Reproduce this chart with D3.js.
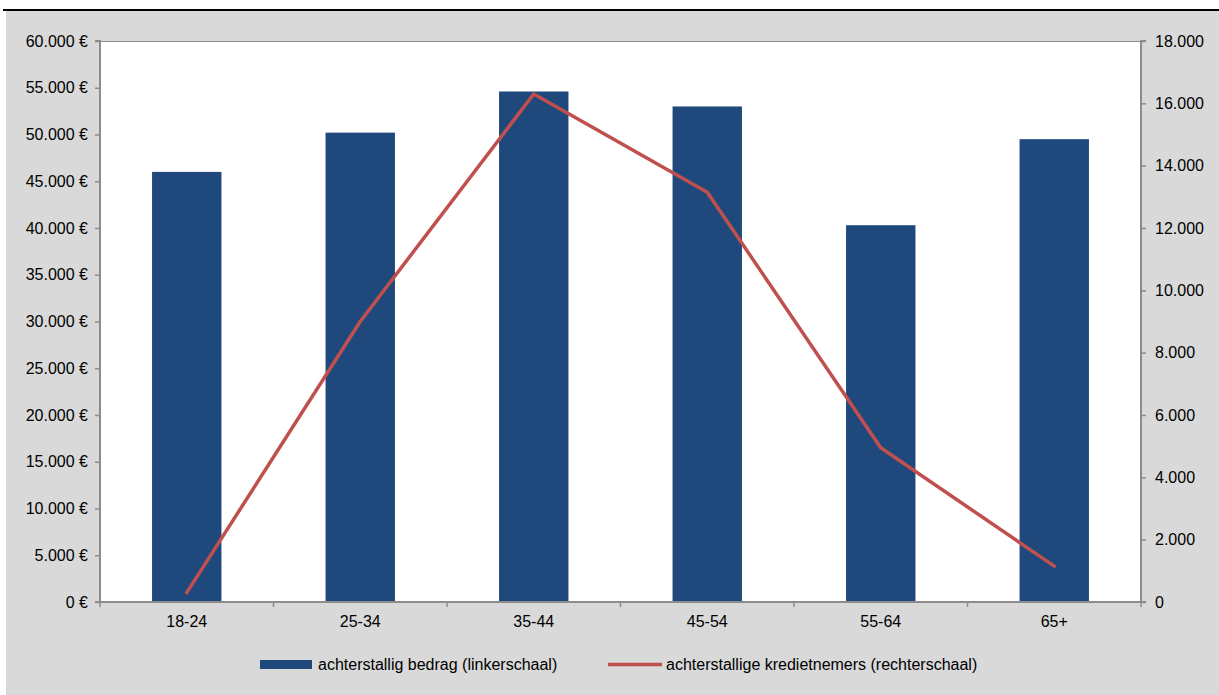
<!DOCTYPE html>
<html><head><meta charset="utf-8">
<script src="https://cdn.jsdelivr.net/npm/d3@7"></script>
<style>body{margin:0;background:#fff}svg{display:block}text{font-family:"Liberation Sans",Arial,sans-serif;fill:#000}</style>
</head><body><svg id="c" width="1219" height="695"></svg>
<script>
const categories = ["18-24","25-34","35-44","45-54","55-64","65+"];
const amountValues = [46000, 50200, 54600, 53000, 40300, 49500];
const borrowerValues = [300, 9000, 16300, 13150, 4950, 1150];
const leftTicks = [0,5000,10000,15000,20000,25000,30000,35000,40000,45000,50000,55000,60000];
const rightTicks = [0,2000,4000,6000,8000,10000,12000,14000,16000,18000];
const seriesNames = ["achterstallig bedrag (linkerschaal)","achterstallige kredietnemers (rechterschaal)"];

const svg = d3.select("#c");
const W=1219,H=695;
const m={l:100,r:1141,t:41,b:602};
const fmt = v => d3.format(",")(v).replace(/,/g,".");

svg.append("rect").attr("x",6).attr("y",11).attr("width",W-6).attr("height",H-11).attr("fill","#d9d9d9");
svg.append("rect").attr("x",3).attr("y",9).attr("width",W-3).attr("height",2).attr("fill","#000");
svg.append("rect").attr("x",m.l).attr("y",m.t).attr("width",m.r-m.l).attr("height",m.b-m.t).attr("fill","#fff");
svg.append("line").attr("x1",m.l).attr("x2",m.r).attr("y1",m.t+0.5).attr("y2",m.t+0.5).attr("stroke","#8c8c8c").attr("stroke-width",1);

const x = d3.scaleBand().domain(categories).range([m.l,m.r]).paddingInner(0.6).paddingOuter(0.3);
const xb = d3.scaleBand().domain(categories).range([m.l,m.r]);
const yL = d3.scaleLinear().domain([0,60000]).range([m.b,m.t]);
const yR = d3.scaleLinear().domain([0,18000]).range([m.b,m.t]);

svg.selectAll("rect.bar").data(categories).enter().append("rect").attr("class","bar")
  .attr("x",d=>x(d)).attr("width",x.bandwidth())
  .attr("y",(d,i)=>yL(amountValues[i])).attr("height",(d,i)=>m.b-yL(amountValues[i]))
  .attr("fill","#1f497d");

const line = d3.line().x((d,i)=>xb(categories[i])+xb.bandwidth()/2).y(d=>yR(d));
svg.append("path").datum(borrowerValues).attr("d",line).attr("fill","none")
  .attr("stroke","#c0504d").attr("stroke-width",3.5).attr("stroke-linejoin","round").attr("stroke-linecap","round");

const fs = "16px";
const gl = svg.append("g").attr("transform",`translate(${m.l},0)`)
  .call(d3.axisLeft(yL).tickValues(leftTicks).tickSize(5).tickFormat(v=>fmt(v)+" €"));
const gr = svg.append("g").attr("transform",`translate(${m.r},0)`)
  .call(d3.axisRight(yR).tickValues(rightTicks).tickSize(5).tickFormat(fmt));
const gb = svg.append("g").attr("transform",`translate(0,${m.b})`)
  .call(d3.axisBottom(xb).tickSize(0).tickPadding(14));
const bticks = categories.map(c=>xb(c)).concat([m.r]);
gb.selectAll("line.bt").data(bticks).enter().append("line").attr("class","bt")
  .attr("x1",d=>d).attr("x2",d=>d).attr("y1",0).attr("y2",5).attr("stroke","#8c8c8c").attr("stroke-width",1.5);

[gl,gr,gb].forEach(g=>{
  g.select(".domain").attr("stroke","#8c8c8c").attr("stroke-width",2);
  g.selectAll(".tick line").attr("stroke","#8c8c8c").attr("stroke-width",1.5);
  g.selectAll("text").attr("font-size",fs).attr("font-family","Liberation Sans, Arial, sans-serif").attr("fill","#000");
});
gl.select(".domain").attr("d",`M-5,${m.t}H0V${m.b}H-5`);
gr.select(".domain").attr("d",`M5,${m.t}H0V${m.b}H5`);
gb.select(".domain").attr("d",`M${m.l},0H${m.r}`);
gl.selectAll(".tick text").attr("x",-12);
gr.selectAll(".tick text").attr("x",14);

const lg = svg.append("g");
lg.append("rect").attr("x",260).attr("y",660).attr("width",52).attr("height",9).attr("fill","#1f497d");
lg.append("text").attr("x",318).attr("y",664).attr("dy","0.35em").attr("font-size",fs).text(seriesNames[0]);
lg.append("line").attr("x1",608).attr("x2",662).attr("y1",664.5).attr("y2",664.5).attr("stroke","#c0504d").attr("stroke-width",3.5);
lg.append("text").attr("x",666).attr("y",664).attr("dy","0.35em").attr("font-size",fs).text(seriesNames[1]);
</script></body></html>
